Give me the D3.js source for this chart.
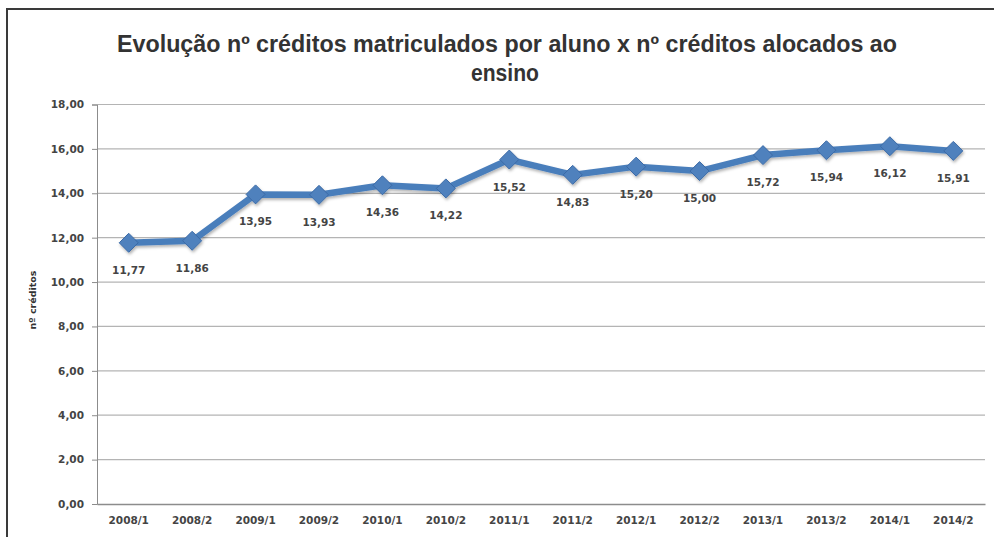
<!DOCTYPE html>
<html lang="pt">
<head>
  <meta charset="UTF-8" />
  <title>Evolução nº créditos</title>
  <script src="https://d3js.org/d3.v7.min.js"></script>
  <style>
    body { margin: 0; background: #fff; overflow: hidden; }
    svg { display: block; }
    .tick text, .lbl { font-family: "DejaVu Sans", sans-serif; font-size: 10.5px; font-weight: bold; fill: #444; }
  </style>
</head>
<body>
<svg width="994" height="537"></svg>
<script>
  const semestres = ["2008/1","2008/2","2009/1","2009/2","2010/1","2010/2","2011/1",
                     "2011/2","2012/1","2012/2","2013/1","2013/2","2014/1","2014/2"];
  const creditos = [11.77, 11.86, 13.95, 13.93, 14.36, 14.22, 15.52,
                    14.83, 15.20, 15.00, 15.72, 15.94, 16.12, 15.91];
  const yTicks = [0, 2, 4, 6, 8, 10, 12, 14, 16, 18];
  const titulo = ["Evolução nº créditos matriculados por  aluno x nº créditos alocados ao", "ensino"];

  const svg = d3.select("svg");
  const fmt = v => d3.format(".2f")(v).replace(".", ",");

  // moldura
  svg.append("rect")
    .attr("x", 7).attr("y", 9).attr("width", 1000).attr("height", 600)
    .attr("fill", "none").attr("stroke", "#3a3a3a").attr("stroke-width", 2);

  const m = { left: 97, right: 985, top: 104.5, bottom: 504 };

  const x = d3.scaleBand().domain(semestres).range([m.left, m.right]);
  const y = d3.scaleLinear().domain([0, 18]).range([m.bottom, m.top]);

  // titulo
  svg.append("text")
    .attr("x", 507).attr("y", 52)
    .attr("text-anchor", "middle")
    .attr("font-family", "'Liberation Sans', sans-serif")
    .attr("font-weight", "bold").attr("font-size", 23).attr("fill", "#333")
    .attr("textLength", 780).attr("lengthAdjust", "spacingAndGlyphs")
    .text(titulo[0]);
  svg.append("text")
    .attr("x", 505).attr("y", 81)
    .attr("text-anchor", "middle")
    .attr("font-family", "'Liberation Sans', sans-serif")
    .attr("font-weight", "bold").attr("font-size", 23).attr("fill", "#333")
    .attr("textLength", 68).attr("lengthAdjust", "spacingAndGlyphs")
    .text(titulo[1]);

  // grade
  svg.append("g")
    .selectAll("line")
    .data(yTicks.filter(d => d > 0))
    .join("line")
    .attr("x1", m.left).attr("x2", m.right)
    .attr("y1", d => y(d)).attr("y2", d => y(d))
    .attr("stroke", "#b4b4b4").attr("stroke-width", 1.2);

  // eixo y
  const yAxis = svg.append("g")
    .attr("transform", `translate(${m.left},0)`)
    .call(d3.axisLeft(y).tickValues(yTicks).tickFormat(fmt).tickSize(5).tickPadding(8));
  yAxis.select(".domain").attr("stroke", "#8c8c8c");
  yAxis.selectAll(".tick line").attr("stroke", "#8c8c8c");

  // eixo x
  const xAxis = svg.append("g")
    .attr("transform", `translate(0,${m.bottom})`)
    .call(d3.axisBottom(x).tickSize(0).tickPadding(13));
  xAxis.select(".domain").attr("stroke", "#8c8c8c").attr("stroke-width", 1.4);

  svg.append("text")
    .attr("transform", "translate(36,300) rotate(-90)")
    .attr("text-anchor", "middle")
    .attr("font-family", "'DejaVu Sans', sans-serif")
    .attr("font-size", 9.5).attr("font-weight", "bold").attr("fill", "#333")
    .text("nº créditos");

  const cx = (d, i) => x(semestres[i]) + x.bandwidth() / 2;

  // sombra
  const defs = svg.append("defs");
  const f = defs.append("filter").attr("id", "sombra")
    .attr("x", "-10%").attr("y", "-10%").attr("width", "120%").attr("height", "130%");
  f.append("feDropShadow").attr("dx", 1).attr("dy", 2).attr("stdDeviation", 1.5)
    .attr("flood-color", "#000").attr("flood-opacity", 0.3);

  const serie = svg.append("g").attr("filter", "url(#sombra)");

  serie.append("path")
    .datum(creditos)
    .attr("fill", "none")
    .attr("stroke", "#4a7ebb")
    .attr("stroke-width", 6.5)
    .attr("stroke-linejoin", "round")
    .attr("d", d3.line().x(cx).y(d => y(d)));

  serie.selectAll("path.mk")
    .data(creditos)
    .join("path")
    .attr("class", "mk")
    .attr("transform", (d, i) => `translate(${cx(d, i)},${y(d)})`)
    .attr("d", d3.symbol(d3.symbolDiamond2, 230))
    .attr("fill", "#4f81bd")
    .attr("stroke", "#3b6aa6").attr("stroke-width", 1);

  svg.append("g")
    .selectAll("text")
    .data(creditos)
    .join("text")
    .attr("class", "lbl")
    .attr("text-anchor", "middle")
    .attr("x", cx)
    .attr("y", d => y(d) + 31)
    .text(fmt);
</script>
</body>
</html>
